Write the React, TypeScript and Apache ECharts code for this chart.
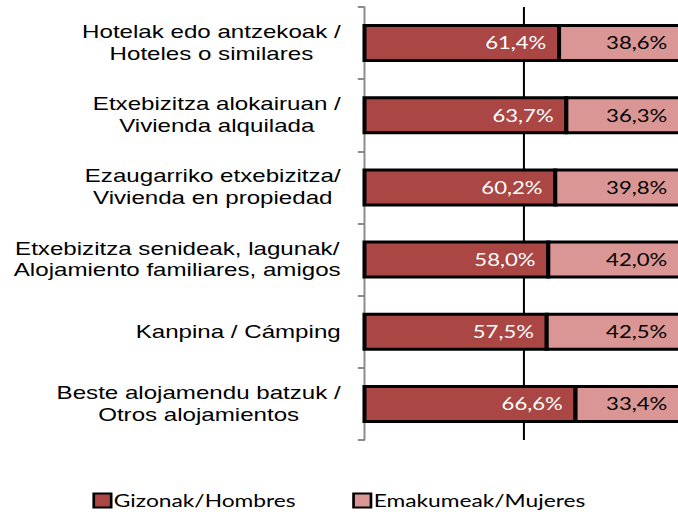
import React, { useEffect, useRef } from "react";
import * as echarts from "echarts";

const categories = [
  "Hotelak edo antzekoak /\nHoteles o similares",
  "Etxebizitza alokairuan /\nVivienda alquilada",
  "Ezaugarriko etxebizitza/\nVivienda en propiedad",
  "Etxebizitza senideak, lagunak/\nAlojamiento familiares, amigos",
  "Kanpina / Cámping",
  "Beste alojamendu batzuk /\nOtros alojamientos",
];
const men = [61.4, 63.7, 60.2, 58.0, 57.5, 66.6];
const women = [38.6, 36.3, 39.8, 42.0, 42.5, 33.4];
const seriesNames = ["Gizonak/Hombres", "Emakumeak/Mujeres"];
const colors = ["#AA4643", "#D99694"];
const labelColors = ["#fff", "#000"];

const SX = 1.34;
const W = 506;
const H = 515;

const fmt = (v: number) => v.toFixed(1).replace(".", ",") + "%";

export default function App() {
  const ref = useRef<HTMLDivElement>(null);
  useEffect(() => {
    if (!ref.current) return;
    const chart = echarts.init(ref.current, undefined, { renderer: "svg" });

    // [categoryIndex, start, end, value]
    const menData = men.map((v, i) => [i, 0, v, v]);
    const womenData = women.map((v, i) => [i, men[i], men[i] + v, v]);

    const makeSeries = (idx: number, data: number[][], dist: number) => ({
      type: "custom",
      name: seriesNames[idx],
      data,
      encode: { x: [1, 2], y: 0 },
      itemStyle: { color: colors[idx], borderColor: "#000", borderWidth: 2 },
      emphasis: { disabled: true },
      renderItem: (params: any, api: any) => {
        const cat = api.value(0);
        const p0 = api.coord([api.value(1), cat]);
        const p1 = api.coord([api.value(2), cat]);
        const h = 35;
        return {
          type: "rect",
          shape: { x: p0[0], y: p0[1] - h / 2, width: p1[0] - p0[0], height: h },
          style: { fill: colors[idx], stroke: "#000", lineWidth: 3 },
          textContent: {
            style: {
              text: fmt(api.value(3)),
              fill: labelColors[idx],
              fontFamily: "Lato",
              fontSize: 16.5,
            },
          },
          textConfig: { position: "insideRight", distance: dist },
        };
      },
    });

    chart.setOption({
      animation: false,
      grid: { left: 272, right: -2.5, top: 7, bottom: 75, containLabel: false, outerBoundsMode: "none" },
      xAxis: {
        type: "value",
        min: 0,
        max: 100,
        interval: 50,
        axisLabel: { show: false },
        axisLine: { show: false },
        axisTick: { show: false },
        splitLine: {
          show: true,
          showMinLine: false,
          showMaxLine: false,
          lineStyle: { color: "#000", width: 1.5 },
        },
      },
      yAxis: {
        type: "category",
        inverse: true,
        data: categories,
        offset: 2.2,
        axisLine: { show: true, lineStyle: { color: "#8c8c8c", width: 1.5 } },
        axisTick: { show: true, length: 5, lineStyle: { color: "#8c8c8c", width: 2 } },
        axisLabel: {
          margin: 15.5,
          formatter: (v: string) =>
            v
              .split("\n")
              .map((l) => `{c|${l}}`)
              .join("\n"),
          rich: {
            c: {
              align: "center",
              fontFamily: "Liberation Sans",
              fontSize: 18,
              lineHeight: 22,
              color: "#000",
            },
          },
        },
      },
      legend: {
        top: 487,
        left: "center",
        icon: "rect",
        itemWidth: 13,
        itemHeight: 14,
        itemGap: 42,
        selectedMode: false,
        itemStyle: { borderWidth: 2, borderColor: "#000" },
        textStyle: { fontFamily: "Lato", fontSize: 17, color: "#000", padding: [0, 0, 0, -3] },
        data: seriesNames,
      },
      series: [makeSeries(0, menData, 11), makeSeries(1, womenData, 12)],
    });
    return () => chart.dispose();
  }, []);
  return (
    <div
      ref={ref}
      style={{
        position: "absolute",
        left: 0,
        top: 0,
        width: W,
        height: H,
        transform: `scaleX(${SX})`,
        transformOrigin: "0 0",
      }}
    />
  );
}
